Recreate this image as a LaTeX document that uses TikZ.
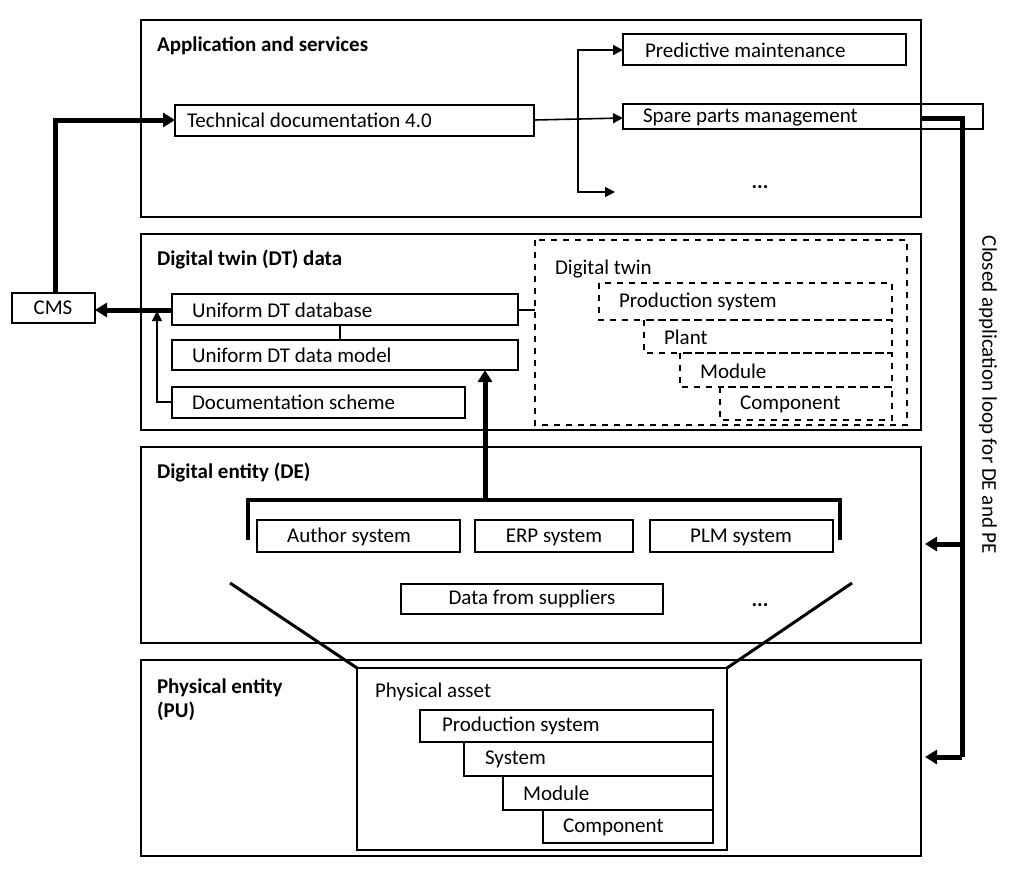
\documentclass[tikz,border=0pt]{standalone}
\usepackage{fontspec}
\setmainfont{Carlito}
\usetikzlibrary{arrows.meta}
\begin{document}
\begin{tikzpicture}[x=0.5pt,y=-0.5pt,font=\fontsize{10.5}{12}\selectfont,
  layer/.style={draw,thick},
  item/.style={draw,thick},
  ttl/.style={anchor=west,font=\fontsize{10.5}{12}\selectfont\bfseries},
  thickarr/.style={line width=2.5pt,-{Triangle[length=6pt,width=7pt]}},
  arr/.style={thick,-{Triangle[length=5pt,width=5pt]}}]
\useasboundingbox (0,0) rectangle (1024,874);
% layers
\draw[layer] (141,20) rectangle (921,217);
\draw[layer] (141,234) rectangle (921,430);
\draw[layer] (141,447) rectangle (921,643);
\draw[layer] (141,660) rectangle (921,856);
\node[ttl] at (150,46) {Application and services};
\node[ttl] at (150,259) {Digital twin (DT) data};
\node[ttl] at (150,472) {Digital entity (DE)};
\node[ttl,align=left] at (150,700) {Physical entity\\(PU)};

% application layer
\draw[item] (175,105) rectangle (534,136); \node[anchor=west] (tech) at (180,120) {Technical documentation 4.0};
\draw[item] (623,34) rectangle (906,65); \node[anchor=west] (pred) at (638,50) {Predictive maintenance};
\draw[item] (623,104) rectangle (983,129); \node[anchor=west] (spare) at (636,117) {Spare parts management};
\node (dots1) at (760,187) {\textbf{...}};
\coordinate (br) at (578,120);
\draw[arr] (534,120) -- (623,118);
\draw[arr] (578,192) -- (578,50) -- (623,50);
\draw[arr] (578,150) -- (578,192) -- (615,192);

% CMS
\draw[item] (12,293) rectangle (95,323); \node (cms) at (53,308) {CMS};
\draw[thickarr] (55,293) -- (55,120) -- (175,120);
\draw[thickarr] (172,310) -- (95,310);

% DT data layer
\draw[item] (172,294) rectangle (518,325); \node[anchor=west] (db) at (185,310) {Uniform DT database};
\draw[item] (172,340) rectangle (518,370); \node[anchor=west] (dm) at (185,355) {Uniform DT data model};
\draw[item] (172,387) rectangle (465,418); \node[anchor=west] (ds) at (185,402) {Documentation scheme};
\draw[thick] (340,325) -- (340,340);
\draw[arr] (172,402) -- (157,402) -- (157,311);
\draw[thick] (518,310) -- (535,310);
\draw[thick,dashed] (535,240) rectangle (907,425);
\node[anchor=west] at (548,269) {Digital twin};
\draw[thick,dashed] (599,283) rectangle (892,320); \node[anchor=west] at (612,302) {Production system};
\draw[thick,dashed] (644,320) rectangle (892,353); \node[anchor=west] at (657,337) {Plant};
\draw[thick,dashed] (680,353) rectangle (892,387); \node[anchor=west] at (693,371) {Module};
\draw[thick,dashed] (720,387) rectangle (892,420); \node[anchor=west] at (733,404) {Component};

% digital entity layer
\draw[line width=2pt] (248,540) -- (248,500) -- (840,500) -- (840,540);
\draw[thickarr] (485,500) -- (485,370);
\draw[item] (257,520) rectangle (460,552); \node (auth) at (349,537) {Author system};
\draw[item] (475,520) rectangle (633,552); \node (erp) at (554,537) {ERP system};
\draw[item] (650,520) rectangle (833,552); \node (plm) at (741,537) {PLM system};
\draw[item] (401,584) rectangle (663,614); \node (sup) at (532,599) {Data from suppliers};
\node (dots2) at (760,605) {\textbf{...}};
\draw[line width=1.5pt] (230,583) -- (357,668);
\draw[line width=1.5pt] (852,583) -- (727,668);

% physical entity layer
\draw[item] (357,668) rectangle (727,850);
\node[anchor=west] at (368,692) {Physical asset};
\draw[item] (420,710) rectangle (713,742); \node[anchor=west] at (435,726) {Production system};
\draw[item] (464,742) rectangle (713,776); \node[anchor=west] at (478,759) {System};
\draw[item] (503,776) rectangle (713,810); \node[anchor=west] at (516,793) {Module};
\draw[item] (543,810) rectangle (713,843); \node[anchor=west] at (556,827) {Component};

% closed loop
\draw[line width=2.5pt] (922,118) -- (962,118) -- (962,757);
\draw[thickarr] (962,544) -- (925,544);
\draw[thickarr] (962,757) -- (925,757);
\node[rotate=-90] at (988,395) {Closed application loop for DE and PE};
\end{tikzpicture}
\end{document}
